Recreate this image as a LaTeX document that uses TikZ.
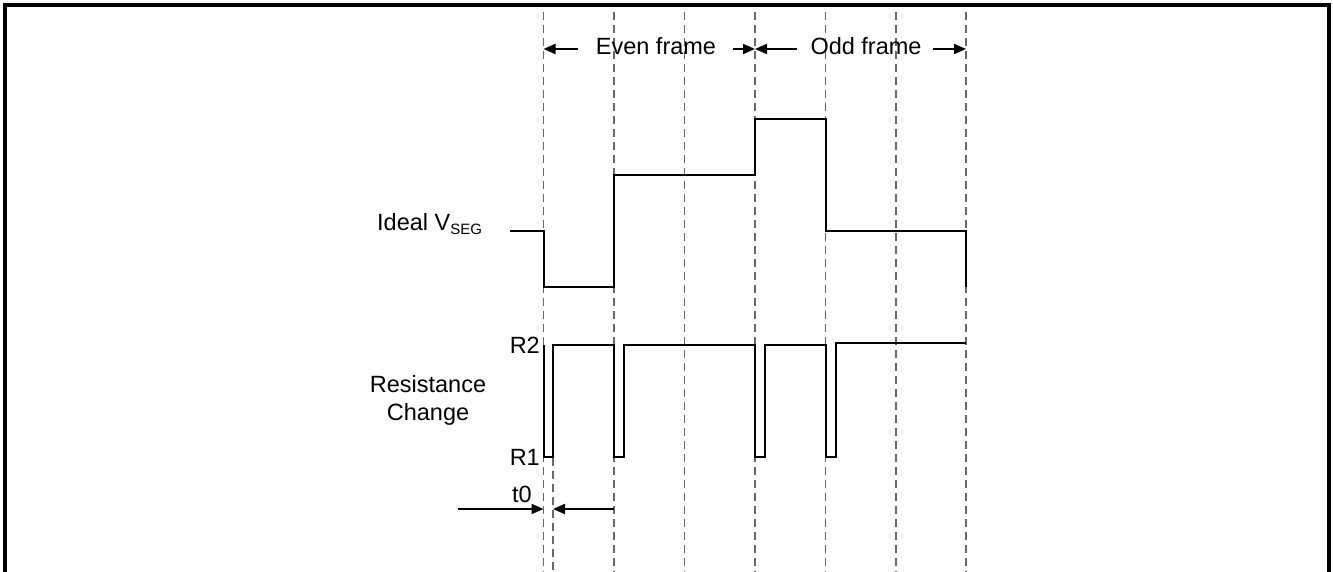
\documentclass[tikz,border=0pt]{standalone}
\usepackage{fontspec}
\setmainfont{Liberation Sans}
\usetikzlibrary{arrows.meta}
\definecolor{dashgray}{RGB}{105,105,105}
\begin{document}
\begin{tikzpicture}[x=1pt,y=-1pt,
  lbl/.style={font=\fontsize{23.5}{28}\selectfont, inner sep=0pt},
  gridline/.style={draw=dashgray, line width=1.8pt, dash pattern=on 8pt off 5pt},
  sig/.style={line width=2pt, line join=miter},
  dimarrow/.style={line width=2pt, -{Triangle[length=12pt,width=10pt]}},
  frameline/.style={line width=4pt}]
\useasboundingbox (0,0) rectangle (1333,572);
% frame
\draw[frameline] (4.5,572) -- (4.5,5.5) -- (1329,5.5) -- (1329,572);
% dashed time markers
\foreach \x in {543.5,614,684.5,755,825.5,896,966}
  \draw[gridline] (\x,12) -- (\x,572);
\draw[gridline] (553,458) -- (553,572);
% frame labels and arrows
\node[lbl, anchor=base] (even) at (656,55) {Even frame};
\node[lbl, anchor=base] (odd) at (866,55) {Odd frame};
\coordinate (e1) at (543.5,49);
\coordinate (e1t) at (578,49);
\coordinate (e2) at (755,49);
\coordinate (e2t) at (733,49);
\coordinate (o1t) at (797,49);
\coordinate (o2) at (966,49);
\coordinate (o2t) at (933,49);
\draw[dimarrow] (e1t) -- (e1);
\draw[dimarrow] (e2t) -- (e2);
\draw[dimarrow] (o1t) -- (e2);
\draw[dimarrow] (o2t) -- (o2);
% Ideal VSEG
\node[lbl, anchor=base west] (vseg) at (377,230) {Ideal V\raisebox{-4.5pt}{\fontsize{15}{15}\selectfont SEG}};
\draw[sig] (510,231) -- (543.5,231) -- (543.5,287) -- (614,287) -- (614,175)
  -- (755,175) -- (755,119) -- (825.5,119) -- (825.5,231) -- (966,231) -- (966,287);
% Resistance change
\node[lbl, anchor=base] (res) at (428,392) {Resistance};
\node[lbl, anchor=base] (chg) at (428,420) {Change};
\node[lbl, anchor=east] (r2) at (540,345) {R2};
\node[lbl, anchor=east] (r1) at (540,457) {R1};
\draw[sig] (543.5,345) -- (543.5,457) -- (553,457) -- (553,345) -- (614,345)
  -- (614,457) -- (624,457) -- (624,345) -- (755,345) -- (755,457) -- (765,457)
  -- (765,345) -- (825.5,345) -- (825.5,457) -- (836,457) -- (836,343) -- (966,343);
% t0
\node[lbl, anchor=base] (t0) at (522,502) {t0};
\coordinate (t0la) at (458,509);
\coordinate (t0lb) at (543.5,509);
\coordinate (t0ra) at (614,509);
\coordinate (t0rb) at (553,509);
\draw[dimarrow] (t0la) -- (t0lb);
\draw[dimarrow] (t0ra) -- (t0rb);
\end{tikzpicture}
\end{document}
